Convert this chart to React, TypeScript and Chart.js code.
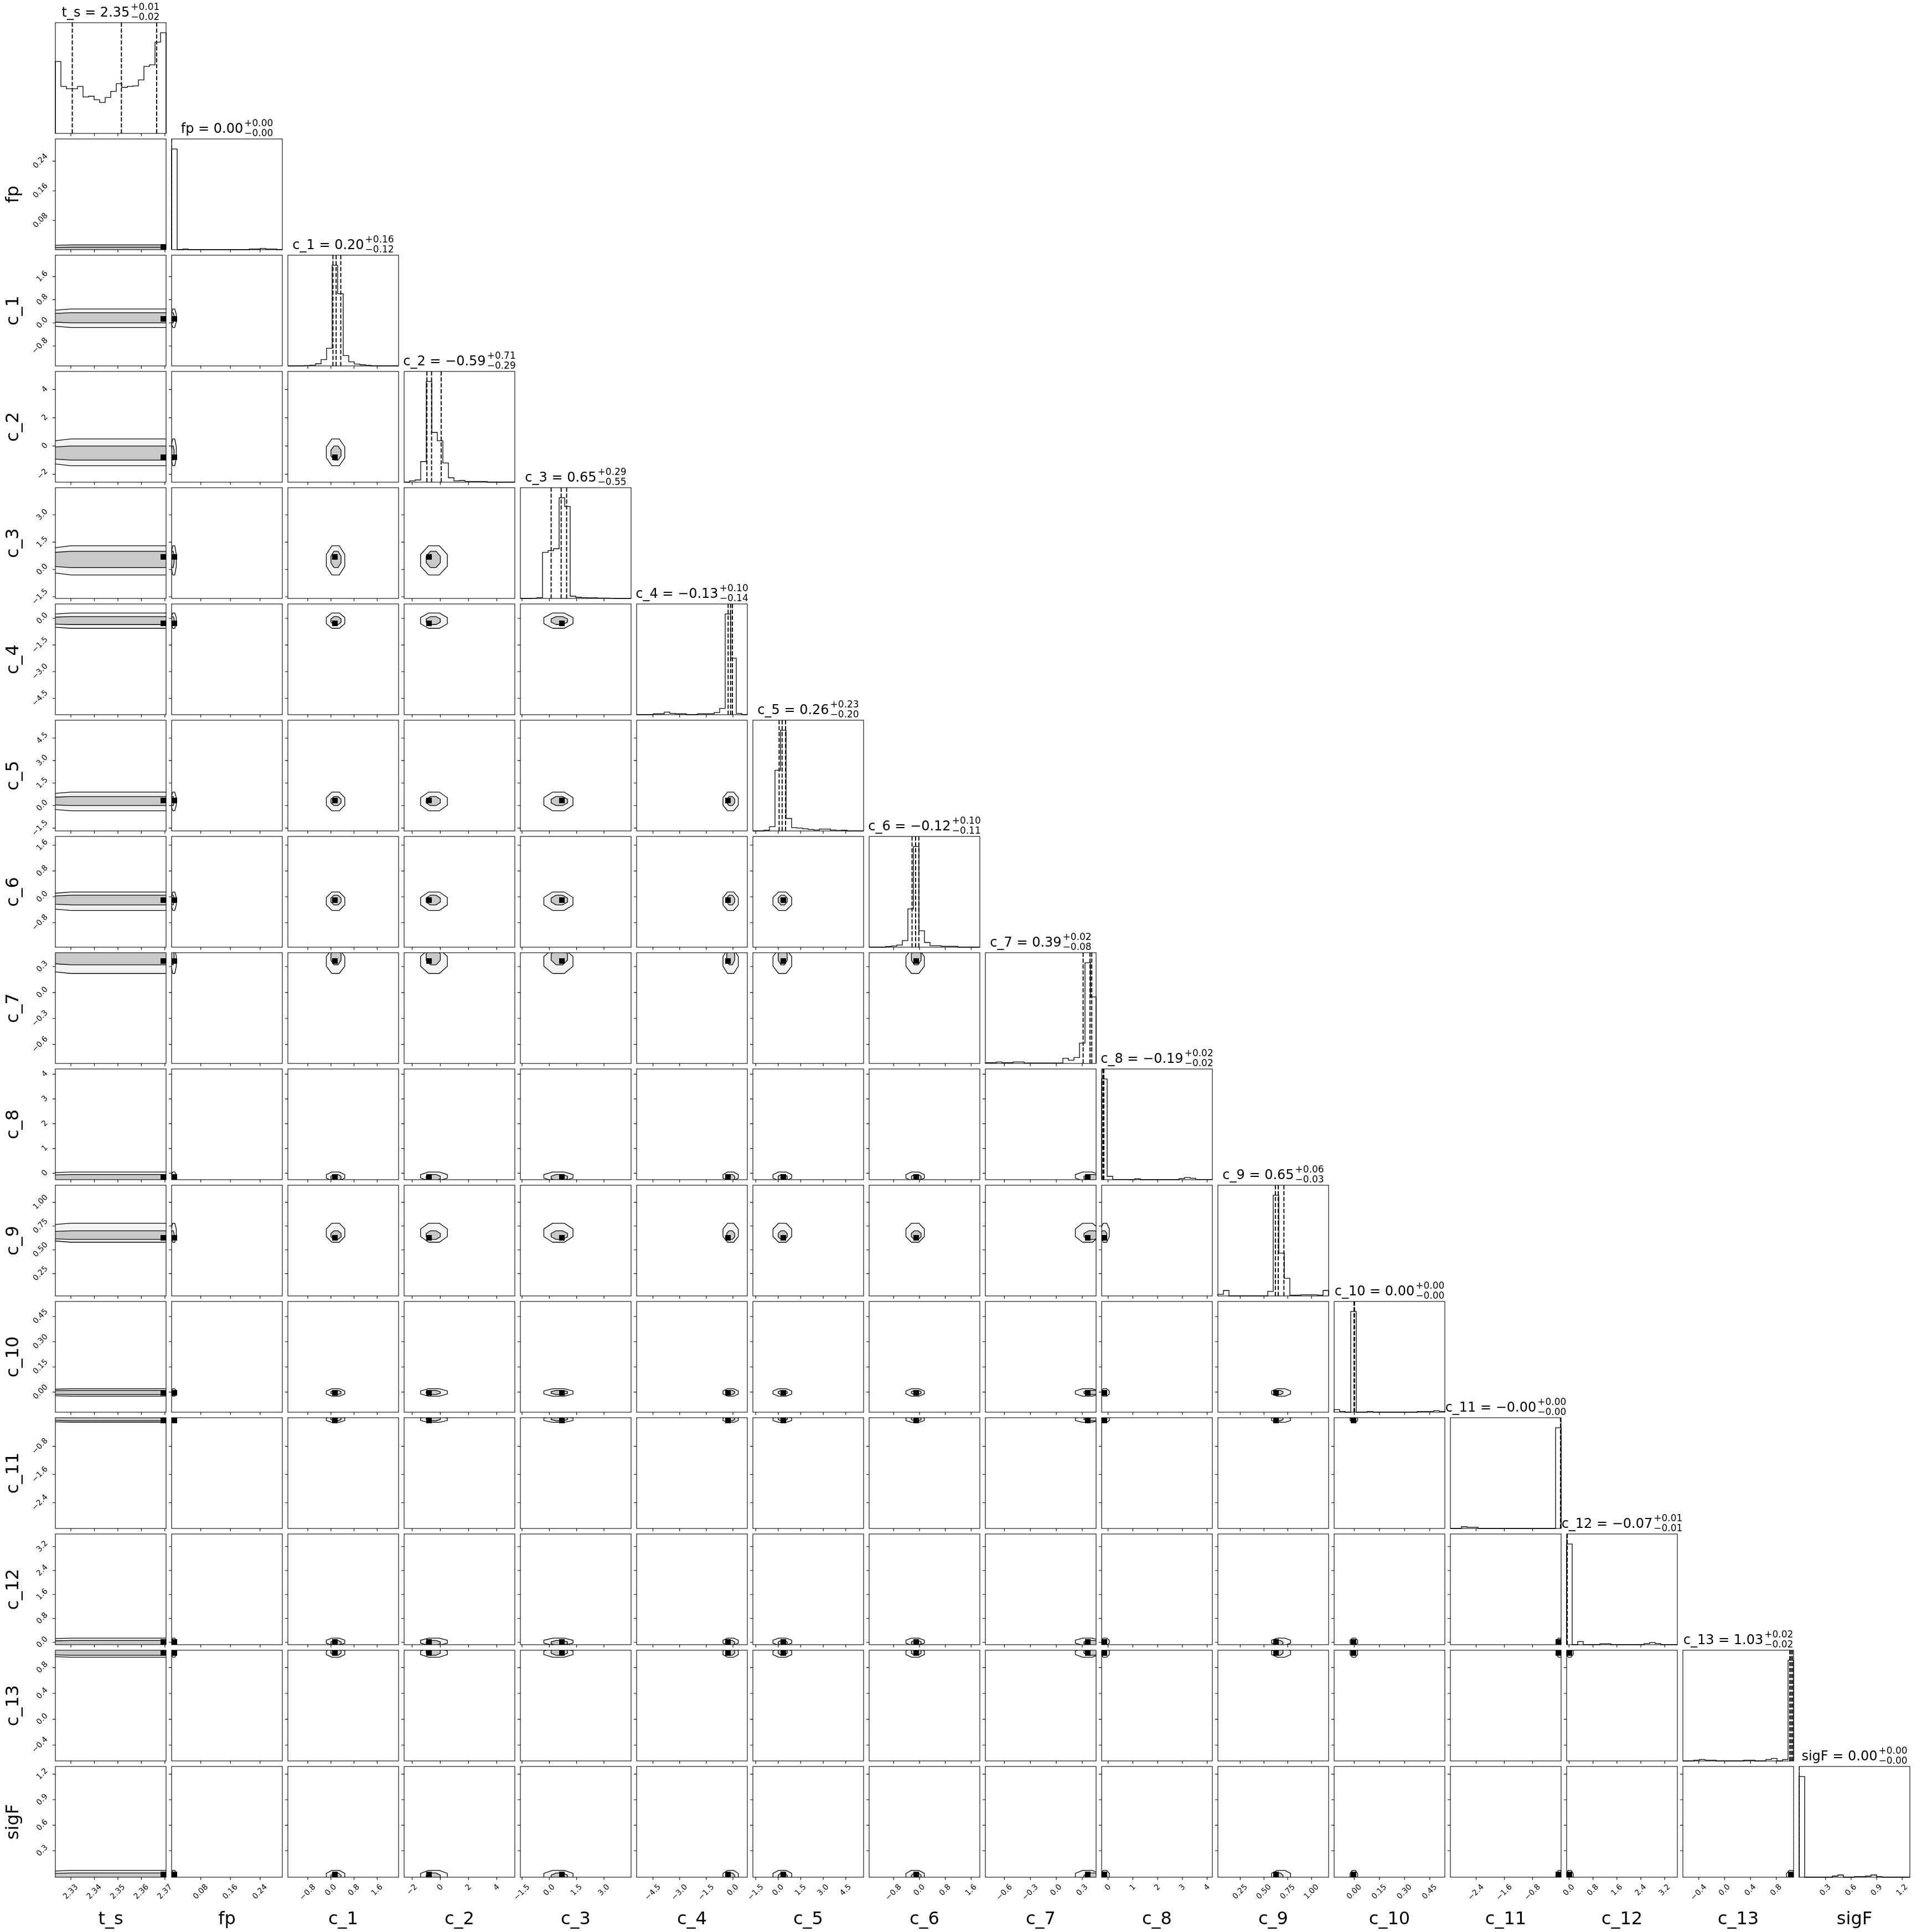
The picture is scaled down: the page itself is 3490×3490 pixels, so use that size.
import React, { useEffect, useRef } from 'react';
import { Chart, registerables } from 'chart.js';
Chart.register(...registerables);

// ---------------- data ----------------
const paramNames = ['t_s', 'fp', 'c_1', 'c_2', 'c_3', 'c_4', 'c_5', 'c_6', 'c_7', 'c_8', 'c_9', 'c_10', 'c_11', 'c_12', 'c_13', 'sigF'];
const rangeLo = [2.3234, 0.0013, -1.49, -2.565, -1.59, -5.42, -1.69, -1.56, -0.82, -0.26, 0.015, -0.12, -3.13, -0.08, -0.647, -0.01];
const rangeHi = [2.3705, 0.3, 2.34, 5.28, 4.49, 0.81, 5.69, 1.87, 0.46, 4.21, 1.18, 0.54, 0.01, 3.62, 1.069, 1.29];

const tickValues = [
  [2.33, 2.34, 2.35, 2.36, 2.37],
  [0.08, 0.16, 0.24],
  [-0.8, 0, 0.8, 1.6],
  [-2, 0, 2, 4],
  [-1.5, 0, 1.5, 3.0],
  [-4.5, -3.0, -1.5, 0],
  [-1.5, 0, 1.5, 3.0, 4.5],
  [-0.8, 0, 0.8, 1.6],
  [-0.6, -0.3, 0, 0.3],
  [0, 1, 2, 3, 4],
  [0.25, 0.5, 0.75, 1.0],
  [0, 0.15, 0.3, 0.45],
  [-2.4, -1.6, -0.8],
  [0, 0.8, 1.6, 2.4, 3.2],
  [-0.4, 0, 0.4, 0.8],
  [0.3, 0.6, 0.9, 1.2],
];
const tickDecimals = [2, 2, 1, 0, 1, 1, 1, 1, 1, 0, 2, 2, 1, 1, 1, 1];

const titleValue = ['2.35', '0.00', '0.20', '\u22120.59', '0.65', '\u22120.13', '0.26', '\u22120.12', '0.39', '\u22120.19', '0.65', '0.00', '\u22120.00', '\u22120.07', '1.03', '0.00'];
const titlePlus = ['0.01', '0.00', '0.16', '0.71', '0.29', '0.10', '0.23', '0.10', '0.02', '0.02', '0.06', '0.00', '0.00', '0.01', '0.02', '0.00'];
const titleMinus = ['0.02', '0.00', '0.12', '0.29', '0.55', '0.14', '0.20', '0.11', '0.08', '0.02', '0.03', '0.00', '0.00', '0.01', '0.02', '0.00'];

const qLow = [2.3306, 0.0, 0.07, -0.95, 0.10, -0.27, 0.06, -0.23, 0.31, -0.21, 0.62, -0.001, -0.002, -0.08, 1.01, -0.012];
const qMid = [2.3515, 0.0005, 0.18, -0.62, 0.65, -0.13, 0.26, -0.12, 0.39, -0.19, 0.65, 0.0, -0.001, -0.07, 1.03, -0.011];
const qHigh = [2.3665, 0.001, 0.34, 0.06, 0.95, -0.03, 0.49, -0.02, 0.41, -0.17, 0.71, 0.001, 0.0, -0.06, 1.05, -0.010];

const histTs = [390, 255, 242, 242, 255, 198, 202, 183, 168, 195, 228, 270, 250, 255, 258, 290, 364, 372, 495, 546];
const histFp = [547, 0, 3, 0, 0, 0, 0, 0, 0, 0, 0, 0, 0, 0, 3, 3, 7, 3, 3, 0];
const histC1 = [0, 0, 0, 2, 4, 12, 34, 96, 547, 392, 56, 22, 10, 6, 3, 0, 0, 0, 0, 0];
const histC2 = [0, 7, 12, 112, 547, 270, 225, 104, 24, 7, 9, 4, 4, 4, 4, 0, 0, 0, 0, 0];
const histC3 = [0, 0, 1, 4, 250, 260, 270, 547, 500, 12, 6, 4, 3, 3, 2, 2, 1, 0, 0, 0];
const histC4 = [0, 0, 0, 4, 4, 12, 6, 4, 4, 0, 0, 4, 4, 4, 10, 30, 477, 268, 6, 0];
const histC5 = [0, 0, 3, 18, 258, 428, 53, 14, 12, 9, 6, 4, 8, 8, 4, 2, 3, 0, 0, 0];
const histC6 = [0, 0, 0, 3, 5, 9, 28, 163, 429, 70, 20, 6, 6, 4, 4, 4, 0, 0, 0, 0];
const histC7 = [3, 3, 6, 3, 3, 6, 6, 2, 2, 2, 2, 2, 2, 2, 22, 14, 25, 86, 428, 283];
const histC8 = [426, 14, 1, 1, 1, 0, 4, 0, 0, 0, 0, 0, 0, 0, 5, 9, 6, 1, 1, 1];
const histC9 = [7, 23, 0, 0, 0, 0, 0, 0, 0, 19, 428, 182, 75, 3, 3, 5, 5, 5, 3, 23];
const histC10 = [11, 3, 0, 426, 0, 0, 3, 0, 0, 0, 0, 0, 0, 0, 0, 3, 3, 3, 6, 3];
const histC11 = [0, 0, 7, 5, 5, 0, 0, 0, 0, 0, 0, 0, 0, 0, 0, 0, 0, 0, 0, 426];
const histC12 = [427, 0, 13, 0, 0, 0, 4, 4, 0, 0, 0, 0, 0, 0, 5, 9, 5, 0, 0, 0];
const histC13 = [0, 0, 3, 6, 3, 3, 0, 0, 0, 0, 0, 3, 3, 0, 0, 6, 11, 0, 6, 426];
const histSigF = [545, 0, 0, 0, 0, 0, 6, 12, 0, 0, 3, 3, 6, 12, 3, 0, 0, 0, 0, 0];
const histCounts = [histTs, histFp, histC1, histC2, histC3, histC4, histC5, histC6, histC7, histC8, histC9, histC10, histC11, histC12, histC13, histSigF];

// 2-D contour extents per parameter (outer / inner credible contour)
const outerLo = [2.30, 0.0, -0.16, -1.4, -0.3, -0.56, -0.35, -0.42, 0.22, -0.3, 0.58, -0.025, -0.12, -0.1, 0.96, -0.05];
const outerHi = [2.40, 0.014, 0.48, 0.5, 1.3, 0.30, 0.9, 0.15, 0.5, 0.05, 0.78, 0.02, 0.05, 0.14, 1.1, 0.07];
const innerLo = [2.30, 0.0, 0.0, -1.0, 0.1, -0.35, 0.0, -0.25, 0.32, -0.3, 0.61, -0.015, -0.08, -0.1, 0.99, -0.05];
const innerHi = [2.40, 0.008, 0.35, 0.0, 1.0, 0.1, 0.6, 0.05, 0.5, -0.05, 0.70, 0.01, 0.05, 0.06, 1.1, 0.04];

// ---------------- layout ----------------
const N = paramNames.length;
const PANEL = 200;
const PITCH = 210;
const X0 = 100;
const Y0 = 41;
const PL = 100, PR = 80, PT = 41, PB = 100;
const FONT = '"DejaVu Sans", Verdana, sans-serif';

function peakCenter(i: number) {
  const counts = histCounts[i];
  let k = 0;
  counts.forEach((c, j) => { if (c > counts[k]) k = j; });
  const bw = (rangeHi[i] - rangeLo[i]) / counts.length;
  return rangeLo[i] + (k + 0.5) * bw;
}

function octagon(xlo: number, xhi: number, ylo: number, yhi: number) {
  const dx = (xhi - xlo) * 0.3;
  const dy = (yhi - ylo) * 0.3;
  return [
    { x: xlo + dx, y: ylo }, { x: xhi - dx, y: ylo }, { x: xhi, y: ylo + dy }, { x: xhi, y: yhi - dy },
    { x: xhi - dx, y: yhi }, { x: xlo + dx, y: yhi }, { x: xlo, y: yhi - dy }, { x: xlo, y: ylo + dy },
    { x: xlo + dx, y: ylo },
  ];
}

function fmt(v: number, d: number) {
  const s = Math.abs(v).toFixed(d);
  return v < -1e-12 ? '\u2212' + s : s;
}

const framePlugin = {
  id: 'cornerFrame',
  afterDatasetsDraw(chart: any, _args: any, opts: any) {
    const row = opts.row as number;
    const col = opts.col as number;
    const ctx = chart.ctx as CanvasRenderingContext2D;
    const a = chart.chartArea;
    const xs = chart.scales.x;
    const ys = chart.scales.y;
    ctx.save();
    ctx.strokeStyle = '#000';
    ctx.fillStyle = '#000';
    ctx.lineWidth = 1.1;
    ctx.strokeRect(a.left, a.top, a.right - a.left, a.bottom - a.top);
    // ticks
    ctx.beginPath();
    const xt = tickValues[col].map((v) => ({ v, p: xs.getPixelForValue(v) })).filter((t) => t.p >= a.left - 0.5 && t.p <= a.right + 0.5);
    xt.forEach((t) => { ctx.moveTo(t.p, a.bottom); ctx.lineTo(t.p, a.bottom + 5); });
    let yt: { v: number; p: number }[] = [];
    if (row !== col) {
      yt = tickValues[row].map((v) => ({ v, p: ys.getPixelForValue(v) })).filter((t) => t.p >= a.top - 0.5 && t.p <= a.bottom + 0.5);
      yt.forEach((t) => { ctx.moveTo(a.left, t.p); ctx.lineTo(a.left - 5, t.p); });
    }
    ctx.stroke();
    // tick labels
    ctx.font = '14px ' + FONT;
    ctx.textAlign = 'center';
    ctx.textBaseline = 'middle';
    const h = 16;
    if (row === N - 1) {
      xt.forEach((t) => {
        const s = fmt(t.v, tickDecimals[col]);
        const w = ctx.measureText(s).width;
        const box = (w + h) / Math.SQRT2;
        ctx.save();
        ctx.translate(t.p, a.bottom + 10 + box / 2);
        ctx.rotate(-Math.PI / 4);
        ctx.fillText(s, 0, 0);
        ctx.restore();
      });
      ctx.save();
      ctx.font = '32px ' + FONT;
      ctx.textBaseline = 'alphabetic';
      ctx.fillText(paramNames[col], (a.left + a.right) / 2, a.bottom + 85);
      ctx.restore();
    }
    if (col === 0 && row > 0) {
      yt.forEach((t) => {
        const s = fmt(t.v, tickDecimals[row]);
        const w = ctx.measureText(s).width;
        const box = (w + h) / Math.SQRT2;
        ctx.save();
        ctx.translate(a.left - 10 - box / 2, t.p);
        ctx.rotate(-Math.PI / 4);
        ctx.fillText(s, 0, 0);
        ctx.restore();
      });
      ctx.save();
      ctx.font = '32px ' + FONT;
      ctx.textBaseline = 'alphabetic';
      ctx.translate(a.left - 67, (a.top + a.bottom) / 2);
      ctx.rotate(-Math.PI / 2);
      ctx.fillText(paramNames[row], 0, 0);
      ctx.restore();
    }
    // title on diagonal
    if (row === col) {
      const main = paramNames[col] + ' = ' + titleValue[col];
      const sup = '+' + titlePlus[col];
      const sub = '\u2212' + titleMinus[col];
      ctx.textBaseline = 'alphabetic';
      ctx.textAlign = 'left';
      ctx.font = '24px ' + FONT;
      const wm = ctx.measureText(main).width;
      ctx.font = '17px ' + FONT;
      const ws = Math.max(ctx.measureText(sup).width, ctx.measureText(sub).width);
      const total = wm + 2 + ws;
      const x0 = (a.left + a.right) / 2 - total / 2;
      const base = a.top - 11;
      ctx.font = '24px ' + FONT;
      ctx.fillText(main, x0, base);
      ctx.font = '17px ' + FONT;
      ctx.fillText(sup, x0 + wm + 2, base - 11.7);
      ctx.fillText(sub, x0 + wm + 2, base + 6);
    }
    ctx.restore();
  },
};

function buildConfig(row: number, col: number) {
  const datasets: any[] = [];
  let yMin: number;
  let yMax: number;
  if (row === col) {
    const counts = histCounts[col];
    const lo = rangeLo[col];
    const hi = rangeHi[col];
    const bw = (hi - lo) / counts.length;
    yMin = 0;
    yMax = 1.1 * Math.max(...counts);
    const pts: { x: number; y: number }[] = [{ x: lo, y: 0 }];
    counts.forEach((c, k) => pts.push({ x: lo + k * bw, y: c }));
    pts.push({ x: hi, y: 0 });
    datasets.push({ data: pts, showLine: true, stepped: true, borderColor: '#000', borderWidth: 1.3, pointRadius: 0, fill: false, clip: 1, order: 3 });
    [qLow, qMid, qHigh].forEach((q) => {
      datasets.push({
        data: [{ x: q[col], y: 0 }, { x: q[col], y: yMax }],
        showLine: true, borderColor: '#000', borderWidth: 1.9, borderDash: [7.5, 3.2], pointRadius: 0, fill: false, clip: 0, order: 1,
      });
    });
  } else {
    yMin = rangeLo[row];
    yMax = rangeHi[row];
    datasets.push({
      data: octagon(outerLo[col], outerHi[col], outerLo[row], outerHi[row]),
      showLine: true, fill: 'shape', backgroundColor: '#f3f3f3', borderColor: '#000', borderWidth: 1.3, pointRadius: 0, clip: 0, order: 6,
    });
    datasets.push({
      data: octagon(innerLo[col], innerHi[col], innerLo[row], innerHi[row]),
      showLine: true, fill: 'shape', backgroundColor: '#c9c9c9', borderColor: '#000', borderWidth: 1.3, pointRadius: 0, clip: 0, order: 5,
    });
    const cx = peakCenter(col);
    const cy = peakCenter(row);
    const hx = (rangeHi[col] - rangeLo[col]) / 40;
    const hy = (rangeHi[row] - rangeLo[row]) / 40;
    datasets.push({
      data: [{ x: cx - hx, y: cy - hy }, { x: cx + hx, y: cy - hy }, { x: cx + hx, y: cy + hy }, { x: cx - hx, y: cy + hy }, { x: cx - hx, y: cy - hy }],
      showLine: true, fill: 'shape', backgroundColor: '#000', borderColor: '#000', borderWidth: 0, pointRadius: 0, clip: 0, order: 4,
    });
  }
  return {
    type: 'scatter' as const,
    data: { datasets },
    options: {
      responsive: false,
      animation: false as const,
      devicePixelRatio: 1,
      events: [] as any[],
      layout: { padding: { left: PL, right: PR, top: PT, bottom: PB } },
      elements: { line: { tension: 0 } },
      plugins: {
        legend: { display: false },
        tooltip: { enabled: false },
        cornerFrame: { row, col },
      },
      scales: {
        x: { type: 'linear' as const, min: rangeLo[col], max: rangeHi[col], display: false },
        y: { type: 'linear' as const, min: yMin, max: yMax, display: false },
      },
    },
    plugins: [framePlugin],
  };
}

function Panel({ row, col }: { row: number; col: number }) {
  const ref = useRef<HTMLCanvasElement | null>(null);
  useEffect(() => {
    if (!ref.current) return;
    const chart = new Chart(ref.current, buildConfig(row, col) as any);
    return () => chart.destroy();
  }, [row, col]);
  const w = PL + PANEL + PR;
  const h = PT + PANEL + PB;
  return (
    <canvas
      ref={ref}
      width={w}
      height={h}
      style={{ position: 'absolute', left: X0 + PITCH * col - PL, top: Y0 + PITCH * row - PT, width: w, height: h }}
    />
  );
}

export default function App() {
  const panels: React.ReactNode[] = [];
  for (let r = 0; r < N; r++) {
    for (let c = 0; c <= r; c++) {
      panels.push(<Panel key={r + '-' + c} row={r} col={c} />);
    }
  }
  return (
    <div style={{ position: 'absolute', left: 0, top: 0, width: 3490, height: 3490, background: '#fff', overflow: 'hidden' }}>
      {panels}
    </div>
  );
}
